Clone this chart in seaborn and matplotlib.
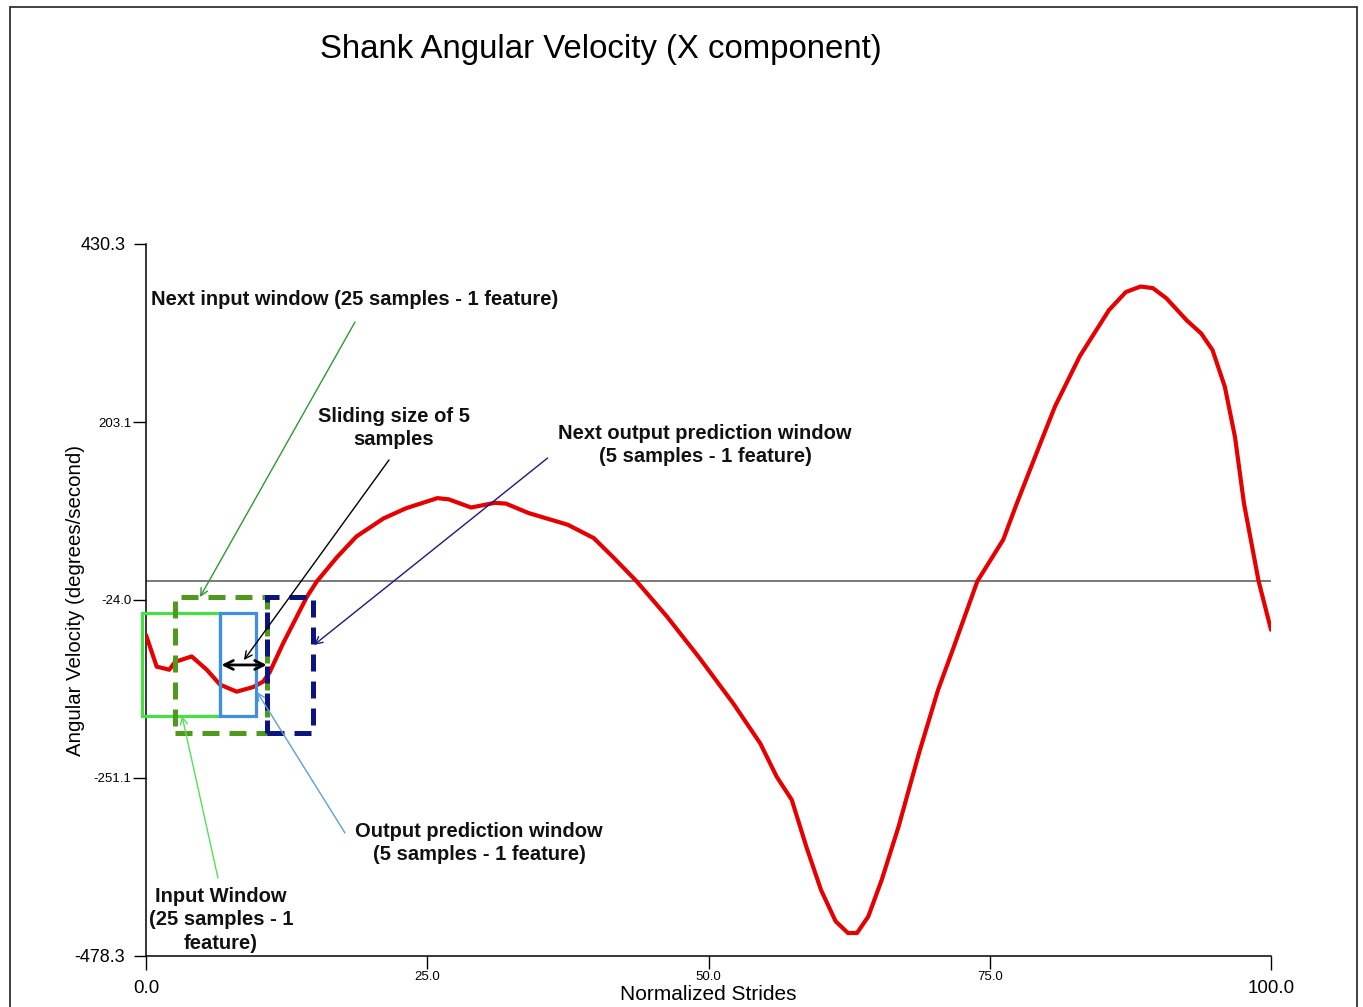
import numpy as np
import pandas as pd
import matplotlib
matplotlib.use("Agg")
import matplotlib.pyplot as plt
import seaborn as sns
from matplotlib.patches import Rectangle
from matplotlib.lines import Line2D

# ---- data ----
stride = [0.0, 0.95, 2.07, 2.58, 4.06, 5.4, 6.58, 8.06, 9.54, 10.43, 11.0, 12.2,
          14.3, 15.2, 17.0, 18.7, 21.1, 23.1, 25.9, 26.9, 28.9, 31.0, 32.0, 34.0,
          37.5, 39.8, 41.5, 43.6, 46.3, 49.2, 52.2, 54.6, 56.06, 57.4, 58.7,
          60.0, 61.3, 62.4, 63.2, 64.2, 65.4, 66.9, 68.7, 70.4, 71.7, 73.9, 76.2,
          77.4, 79.5, 80.8, 83.0, 85.6, 87.1, 88.4, 89.5, 90.7, 92.5, 93.8, 94.8,
          95.9, 96.8, 97.6, 98.9, 100.0]
velocity = [-68.7, -109, -113, -103, -96, -113, -132, -141, -135, -128, -116, -79,
            -20, 0, 31, 57, 80, 93, 106, 104.5, 94, 100, 99, 87,
            72, 55, 31, 0, -45, -98, -156, -207, -249.5, -279, -339,
            -394, -434, -449, -449, -428, -381, -313, -220, -139, -88, 0, 53,
            99, 176, 223, 287, 346, 369, 376, 374, 361, 333, 316, 295,
            248, 184, 99, 0, -62]

y_ticks_major = [-478.3, 430.3]
y_labels_major = ["-478.3", "430.3"]
y_ticks_minor = [-251.1, -24.0, 203.1]
y_labels_minor = ["-251.1", "-24.0", "203.1"]
x_ticks_major = [0, 100]
x_labels_major = ["0.0", "100.0"]
x_ticks_minor = [25, 50, 75]
x_labels_minor = ["25.0", "50.0", "75.0"]

title = "Shank Angular Velocity (X component)"
x_label = "Normalized Strides"
y_label = "Angular Velocity (degrees/second)"

# ---- style ----
sns.set_theme(style="white")
plt.rcParams["font.family"] = ["Liberation Sans", "DejaVu Sans"]
plt.rcParams["text.color"] = "black"
plt.rcParams["axes.labelcolor"] = "black"
plt.rcParams["xtick.color"] = "black"
plt.rcParams["ytick.color"] = "black"

fig = plt.figure(figsize=(13.63, 10.07), dpi=100)
ax = fig.add_axes([146 / 1363, 51 / 1007, 1125 / 1363, 712 / 1007])

df = pd.DataFrame({"stride": stride, "velocity": velocity})
ax.axhline(0, color="#555555", lw=1.1, zorder=1)
sns.lineplot(data=df, x="stride", y="velocity", color="#e60000", lw=3.0,
             ax=ax, zorder=3, sort=False, solid_joinstyle="round",
             solid_capstyle="round")

ax.set_xlim(0, 100)
ax.set_ylim(-478.3, 430.3)

for s in ["top", "right"]:
    ax.spines[s].set_visible(False)
for s in ["left", "bottom"]:
    ax.spines[s].set_color("black")
    ax.spines[s].set_linewidth(1.1)

ax.set_xticks(x_ticks_major)
ax.set_xticklabels(x_labels_major, fontsize=13.5)
ax.set_xticks(x_ticks_minor, minor=True)
ax.set_xticklabels(x_labels_minor, minor=True, fontsize=9.5)
ax.set_yticks(y_ticks_major)
ax.set_yticklabels(y_labels_major, fontsize=13)
ax.set_yticks(y_ticks_minor, minor=True)
ax.set_yticklabels(y_labels_minor, minor=True, fontsize=9.5)

ax.tick_params(axis="x", which="major", bottom=True, length=10, width=1,
               pad=7, direction="out", color="black")
ax.tick_params(axis="x", which="minor", bottom=True, length=9, width=1,
               pad=2, direction="out", color="black")
ax.tick_params(axis="y", which="major", left=True, length=9, width=1,
               pad=6, direction="out", color="black")
ax.tick_params(axis="y", which="minor", left=True, length=9.5, width=1,
               pad=1, direction="out", color="black")

ax.set_xlabel(x_label, fontsize=15)
ax.xaxis.label.set_va("center")
ax.xaxis.set_label_coords(0.4996, -0.0534)
ax.set_ylabel(y_label, fontsize=14.7)
ax.yaxis.label.set_va("center")
ax.yaxis.set_label_coords(-0.0631, 0.5)

fig.text(0.441, 0.951, title, fontsize=23.8, ha="center", va="center",
         color="black")

# ---- window boxes ----
dash = (0, (3.4, 2.0))
ax.add_patch(Rectangle((-0.38, -171.6), 6.96, 130.6, fill=False,
                       edgecolor="#44e044", lw=2.3, zorder=4, clip_on=False))
ax.add_patch(Rectangle((6.58, -171.6), 3.17, 130.6, fill=False,
                       edgecolor="#3f8fe0", lw=2.3, zorder=4, clip_on=False))
ax.add_patch(Rectangle((2.58, -194.1), 8.15, 174.3, fill=False,
                       edgecolor="#4f9a1c", lw=3.6, linestyle=dash, zorder=5))
ax.add_patch(Rectangle((10.73, -194.1), 4.07, 174.3, fill=False,
                       edgecolor="#0b1480", lw=3.6, linestyle=dash, zorder=5))

# ---- sliding double arrow ----
ax.annotate("", xy=(10.73, -106.9), xytext=(6.7, -106.9),
            arrowprops=dict(arrowstyle="<->", color="black", lw=2.0,
                            shrinkA=0, shrinkB=0, mutation_scale=16), zorder=6)

# ---- annotations ----
def note(tail, tip, color):
    ax.annotate("", xy=tip, xytext=tail,
                arrowprops=dict(arrowstyle="->", color=color, lw=1.0,
                                shrinkA=0, shrinkB=0, mutation_scale=13),
                zorder=6)

note((18.58, 330.8), (4.8, -20.2), "#2e9a2e")
note((21.6, 154.7), (8.71, -100.6), "black")
note((35.7, 157.2), (14.93, -81.4), "#1a1a80")
note((17.69, -321.3), (9.87, -141.4), "#5aa0e0")
note((6.4, -378.8), (3.2, -171.9), "#55e055")

tk = dict(fontsize=14.5, fontweight="bold", color="#111111", va="center",
          linespacing=1.3)
ax.text(0.44, 360.1, "Next input window (25 samples - 1 feature)", ha="left", **tk)
ax.text(22.04, 195.5, "Sliding size of 5\nsamples", ha="center", **tk)
ax.text(49.7, 173.8, "Next output prediction window\n(5 samples - 1 feature)",
        ha="center", **tk)
ax.text(29.6, -334.1, "Output prediction window\n(5 samples - 1 feature)",
        ha="center", **tk)
ax.text(6.67, -432.3, "Input Window\n(25 samples - 1\nfeature)", ha="center", **tk)

# ---- outer frame ----
fx0, fx1, fy1 = 10 / 1363, 1357 / 1363, 1 - 7 / 1007
for xs, ys in [([fx0, fx0], [0, fy1]), ([fx1, fx1], [0, fy1]), ([fx0, fx1], [fy1, fy1])]:
    fig.add_artist(Line2D(xs, ys, transform=fig.transFigure, color="#333333", lw=1.3))

fig.savefig("out.png", dpi=100)
